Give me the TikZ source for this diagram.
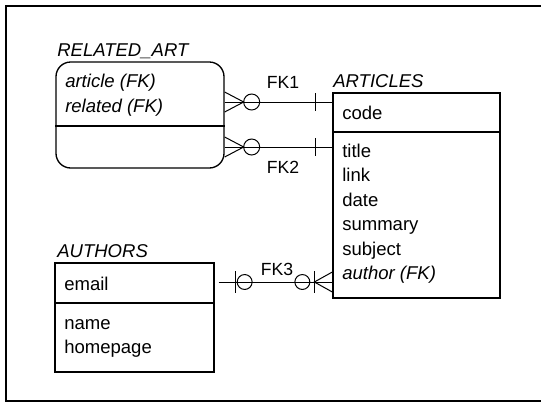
\documentclass[tikz,border=0pt]{standalone}
\usepackage{fontspec}
\setmainfont{Liberation Sans}
\usetikzlibrary{fit,calc}
\tikzset{
  frameline/.style={line width=1.5pt},
  entbox/.style={draw, inner sep=0pt, line width=1pt},
  divider/.style={line width=1pt},
  conn/.style={line width=0.75pt},
  attr/.style={anchor=base west, inner sep=0pt, font=\fontsize{13.9}{16}\selectfont},
  fkattr/.style={attr, font=\fontsize{13.9}{16}\selectfont\itshape},
  enttitle/.style={anchor=base west, inner sep=0pt, font=\fontsize{13.9}{16}\selectfont\itshape},
  fklabel/.style={anchor=base, inner sep=0pt, font=\fontsize{13.2}{16}\selectfont}
}
\begin{document}
\begin{tikzpicture}[x=0.75pt,y=-0.75pt]
\useasboundingbox (0,0) rectangle (541,404);
% outer frame
\draw[frameline] (541,6) -- (6,6) -- (6,401) -- (541,401);

% RELATED_ART entity
\node[enttitle] (relT) at (57,56) {RELATED\_ART};
\node[entbox, rounded corners=11pt, fit={(56,62)(224,168)}] (rel) {};
\draw[divider] (rel.west |- 0,126) -- (rel.east |- 0,126);
\node[fkattr] (relA1) at (65,87) {article (FK)};
\node[fkattr] (relA2) at (65,112.5) {related (FK)};

% ARTICLES entity
\node[enttitle] (artT) at (333,87) {ARTICLES};
\node[entbox, fit={(333,93)(500,298)}] (art) {};
\draw[divider] (art.west |- 0,132) -- (art.east |- 0,132);
\node[attr] (artK) at (342,119) {code};
\node[attr] (artA1) at (342,157) {title};
\node[attr] (artA2) at (342,181.5) {link};
\node[attr] (artA3) at (342,206) {date};
\node[attr] (artA4) at (342,230.5) {summary};
\node[attr] (artA5) at (342,255) {subject};
\node[fkattr] (artA6) at (342,279.5) {author (FK)};

% AUTHORS entity
\node[enttitle] (autT) at (57,257) {AUTHORS};
\node[entbox, fit={(55,263)(214,372)}] (aut) {};
\draw[divider] (aut.west |- 0,303) -- (aut.east |- 0,303);
\node[attr] (autK) at (64,290) {email};
\node[attr] (autA1) at (64,329) {name};
\node[attr] (autA2) at (64,353) {homepage};

% FK1: RELATED_ART (many, optional) -- ARTICLES (one)
\coordinate (fk1a) at (rel.east |- 0,102);
\coordinate (fk1b) at (art.west |- 0,102);
\draw[conn] (fk1a) -- (fk1b);
\draw[conn] (fk1a) ++(0,-10) -- ++(19,10) -- ++(-19,10);
\draw[conn] ($(fk1a)+(27,0)$) circle[radius=6pt];
\draw[conn] (fk1b) ++(-17,-9) -- ++(0,18);
\node[fklabel] (fk1) at (283,88) {FK1};

% FK2: RELATED_ART (many, optional) -- ARTICLES (one)
\coordinate (fk2a) at (rel.east |- 0,147);
\coordinate (fk2b) at (art.west |- 0,147);
\draw[conn] (fk2a) -- (fk2b);
\draw[conn] (fk2a) ++(0,-10) -- ++(19,10) -- ++(-19,10);
\draw[conn] ($(fk2a)+(27,0)$) circle[radius=6pt];
\draw[conn] (fk2b) ++(-17,-9) -- ++(0,18);
\node[fklabel] (fk2) at (283,173) {FK2};

% FK3: AUTHORS (zero or one) -- ARTICLES (zero or many)
\coordinate (fk3a) at ($(aut.east |- 0,282)+(4,0)$);
\coordinate (fk3b) at (art.west |- 0,282);
\draw[conn] (fk3a) -- (fk3b);
\draw[conn] (fk3a) ++(17,-11) -- ++(0,22);
\draw[conn] ($(fk3a)+(26,0)$) circle[radius=5.6pt];
\draw[conn] ($(fk3b)+(-30,0)$) circle[radius=5.6pt];
\draw[conn] (fk3b) ++(-18,-11) -- ++(0,22);
\draw[conn] (fk3b) ++(0,-10) -- ++(-18,10) -- ++(18,10);
\node[fklabel] (fk3) at (277,275) {FK3};
\end{tikzpicture}
\end{document}
